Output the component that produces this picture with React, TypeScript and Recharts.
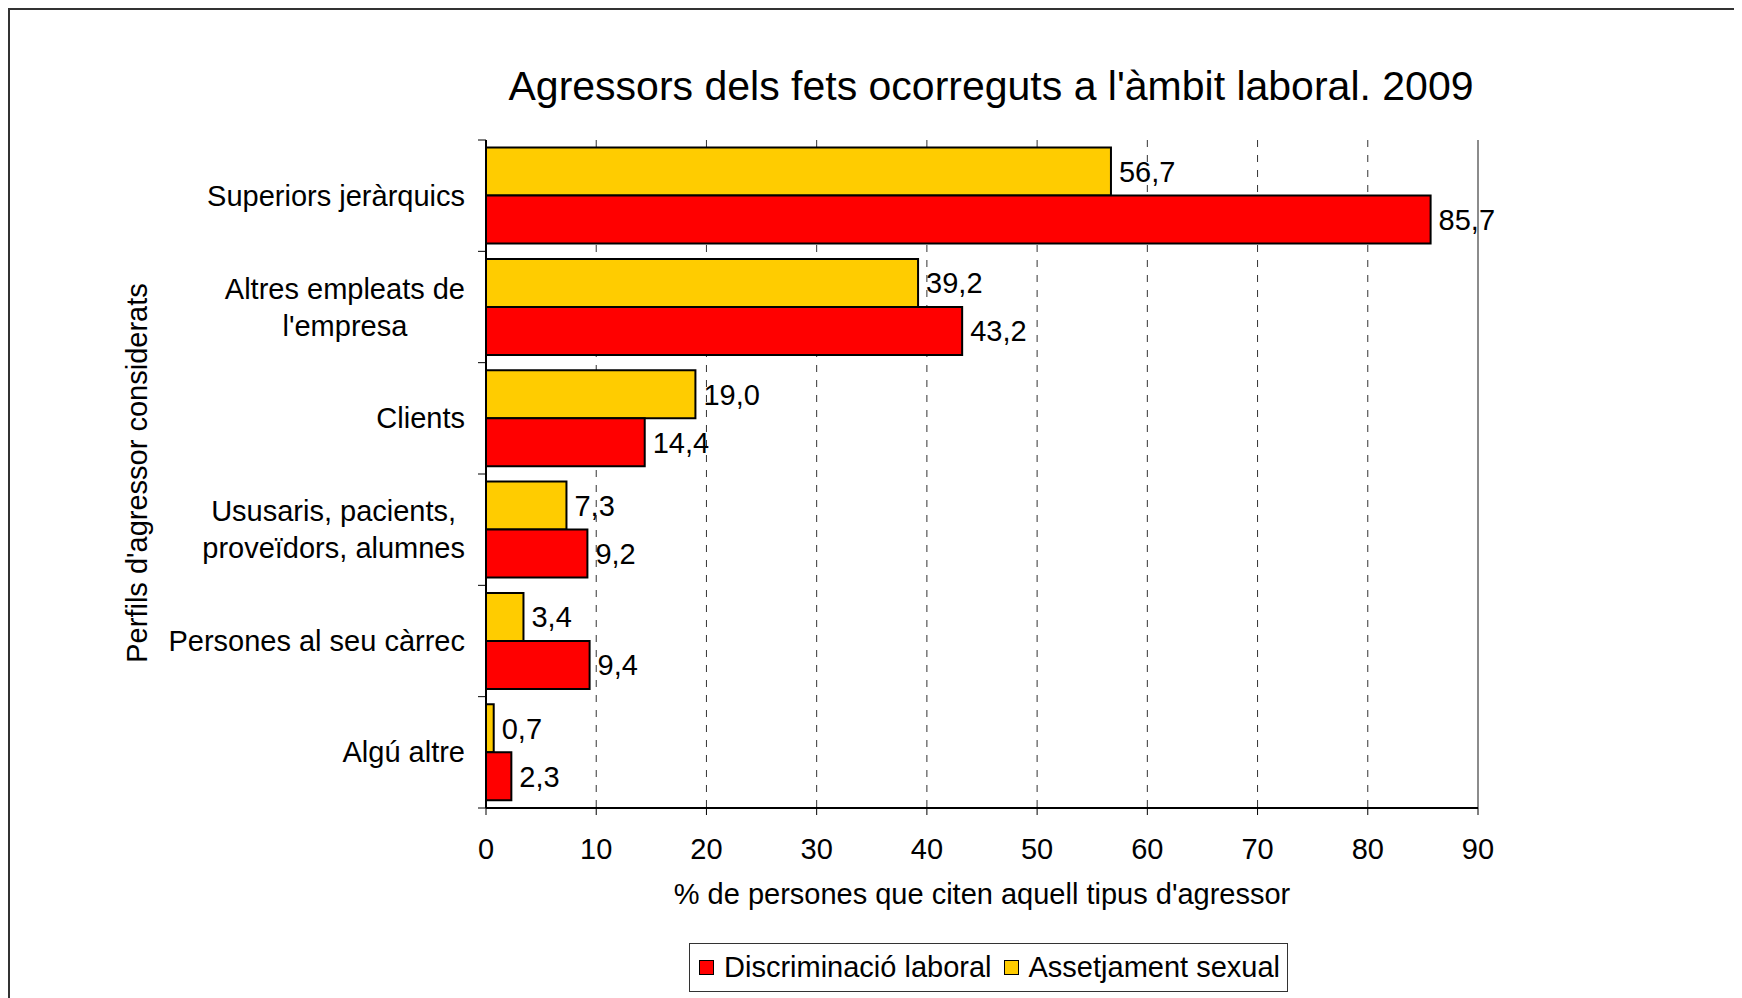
import { Bar, BarChart, CartesianGrid, LabelList, ReferenceLine, XAxis, YAxis } from "recharts";

// Dades de l'enquesta (percentatges llegits del gràfic)
const CATEGORIES = [
  "Superiors jeràrquics",
  "Altres empleats de\nl'empresa",
  "Clients",
  "Ususaris, pacients,\nproveïdors, alumnes",
  "Persones al seu càrrec",
  "Algú altre",
];
const ASSETJAMENT = [56.7, 39.2, 19.0, 7.3, 3.4, 0.7];
const DISCRIMINACIO = [85.7, 43.2, 14.4, 9.2, 9.4, 2.3];
const X_TICKS = [0, 10, 20, 30, 40, 50, 60, 70, 80, 90];

const FONT = "'Liberation Sans', Arial, sans-serif";
const FS = 29;
const YELLOW = "#ffcc00";
const RED = "#ff0000";

// geometria (coordenades dins del gràfic)
const W = 1734;
const H = 990;
const PLOT_LEFT = 478;
const PLOT_TOP = 132;
const PLOT_W = 992;
const PLOT_H = 668;
const BAND = PLOT_H / CATEGORIES.length;

const data = CATEGORIES.map((name, i) => ({
  name,
  assetjament: ASSETJAMENT[i],
  discriminacio: DISCRIMINACIO[i],
}));

const fmt = (v: unknown) => Number(v).toFixed(1).replace(".", ",");

let ctx: CanvasRenderingContext2D | null = null;
function textWidth(s: string, size: number) {
  if (!ctx) ctx = document.createElement("canvas").getContext("2d");
  if (!ctx) return s.length * size * 0.5;
  ctx.font = `${size}px ${FONT}`;
  return ctx.measureText(s).width;
}

function CategoryTick(props: any) {
  const { y, payload, index } = props;
  const lines = String(payload.value).split("\n");
  const right = PLOT_LEFT - 21;
  const maxW = Math.max(...lines.map((l) => textWidth(l, FS)));
  const cx = right - maxW / 2;
  const lh = 37;
  const y0 = y - ((lines.length - 1) * lh) / 2;
  return (
    <g>
      <line x1={PLOT_LEFT - 8} x2={PLOT_LEFT} y1={y - BAND / 2} y2={y - BAND / 2} stroke="#000" />
      {index === CATEGORIES.length - 1 && (
        <line x1={PLOT_LEFT - 8} x2={PLOT_LEFT} y1={y + BAND / 2} y2={y + BAND / 2} stroke="#000" />
      )}
      {lines.map((l, i) => (
        <text
          key={i}
          x={cx}
          y={y0 + i * lh}
          textAnchor="middle"
          dominantBaseline="central"
          fontSize={FS}
          fontFamily={FONT}
          fill="#000"
        >
          {l}
        </text>
      ))}
    </g>
  );
}

function LegendItem({ color, label }: { color: string; label: string }) {
  return (
    <div style={{ display: "flex", alignItems: "center" }}>
      <span
        style={{
          width: 13,
          height: 13,
          background: color,
          border: "1.5px solid #000",
          marginRight: 10,
          display: "inline-block",
        }}
      />
      <span>{label}</span>
    </div>
  );
}

export default function App() {
  return (
    <div style={{ position: "relative", width: W, height: H, fontFamily: FONT }}>
      <div
        style={{
          position: "absolute",
          left: 0,
          top: 0,
          width: W,
          height: H,
          borderTop: "2px solid #333",
          borderLeft: "2px solid #333",
          boxSizing: "border-box",
        }}
      />
      <div
        style={{
          position: "absolute",
          left: PLOT_LEFT + 9,
          width: PLOT_W,
          top: 55,
          textAlign: "center",
          fontSize: 41,
          lineHeight: "46px",
          whiteSpace: "nowrap",
          color: "#000",
        }}
      >
        Agressors dels fets ocorreguts a l'àmbit laboral. 2009
      </div>

      <div style={{ position: "absolute", left: 0, top: 0 }}>
        <BarChart
          width={W}
          height={H}
          data={data}
          layout="vertical"
          margin={{ top: PLOT_TOP, right: W - PLOT_LEFT - PLOT_W, bottom: H - PLOT_TOP - PLOT_H - 60, left: 0 }}
          barCategoryGap={7.6}
          barGap={0}
        >
          <CartesianGrid horizontal={false} stroke="#333" strokeDasharray="7 8" />
          <XAxis
            type="number"
            domain={[0, 90]}
            ticks={X_TICKS}
            interval={0}
            height={60}
            tickSize={7}
            tickMargin={23}
            stroke="#000"
            axisLine={{ stroke: "#000", strokeWidth: 2 }}
            tick={{ fill: "#000", fontSize: FS, fontFamily: FONT }}
            label={{
              value: "% de persones que citen aquell tipus d'agressor",
              position: "bottom",
              offset: 15,
              style: { fill: "#000", fontSize: FS, fontFamily: FONT },
            }}
          />
          <XAxis
            xAxisId="top"
            orientation="top"
            type="number"
            domain={[0, 90]}
            height={0}
            tick={false}
            tickLine={false}
            axisLine={{ stroke: "#8c8c8c", strokeWidth: 2 }}
          />
          <YAxis
            type="category"
            dataKey="name"
            width={PLOT_LEFT}
            tickLine={false}
            axisLine={{ stroke: "#000", strokeWidth: 2 }}
            tick={<CategoryTick />}
            interval={0}
            label={{
              content: () => (
                <text
                  x={129}
                  y={PLOT_TOP + PLOT_H / 2 - 1}
                  transform={`rotate(-90 129 ${PLOT_TOP + PLOT_H / 2 - 1})`}
                  textAnchor="middle"
                  dominantBaseline="central"
                  fontSize={FS}
                  fontFamily={FONT}
                  fill="#000"
                >
                  Perfils d'agressor considerats
                </text>
              ),
            }}
          />
          <ReferenceLine x={90} stroke="#8c8c8c" strokeWidth={2} />
          <Bar dataKey="assetjament" name="Assetjament sexual" fill={YELLOW} stroke="#000" strokeWidth={2} isAnimationActive={false}>
            <LabelList
              dataKey="assetjament"
              position="right"
              offset={8}
              formatter={fmt}
              style={{ fill: "#000", fontSize: FS, fontFamily: FONT }}
            />
          </Bar>
          <Bar dataKey="discriminacio" name="Discriminació laboral" fill={RED} stroke="#000" strokeWidth={2} isAnimationActive={false}>
            <LabelList
              dataKey="discriminacio"
              position="right"
              offset={8}
              formatter={fmt}
              style={{ fill: "#000", fontSize: FS, fontFamily: FONT }}
            />
          </Bar>
        </BarChart>
      </div>

      <div
        style={{
          position: "absolute",
          left: 681,
          top: 935,
          width: 599,
          height: 49,
          boxSizing: "border-box",
          border: "1.5px solid #333",
          display: "flex",
          alignItems: "center",
          paddingLeft: 9,
          gap: 12,
          fontSize: FS,
          color: "#000",
          whiteSpace: "nowrap",
          background: "#fff",
        }}
      >
        <LegendItem color={RED} label="Discriminació laboral" />
        <LegendItem color={YELLOW} label="Assetjament sexual" />
      </div>
    </div>
  );
}
